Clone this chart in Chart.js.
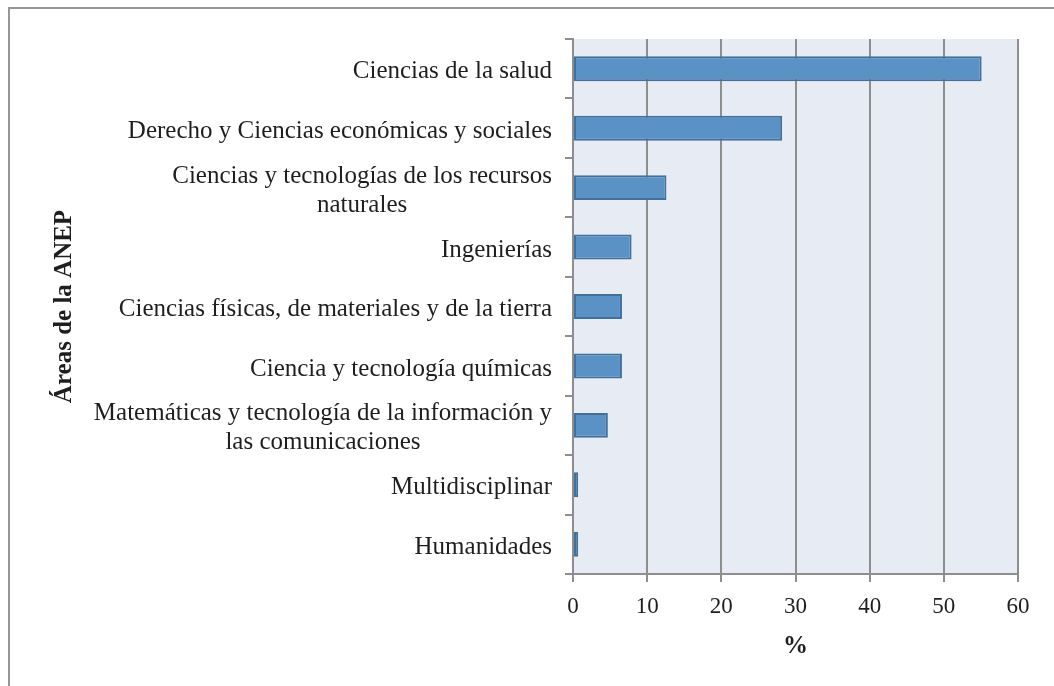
<!DOCTYPE html>
<html>
<head>
<meta charset="utf-8">
<script src="https://cdn.jsdelivr.net/npm/chart.js@4.5.0/dist/chart.umd.min.js"></script>
<style>
  html, body { margin: 0; padding: 0; background: #fff; overflow: hidden; }
  #frame { position: absolute; left: 8px; top: 7px; width: 1100px; height: 700px;
           border-left: 2px solid #969696; border-top: 2px solid #969696; }
  #wrap { position: absolute; left: 0; top: 0; width: 1054px; height: 686px; }
</style>
</head>
<body>
<div id="frame"></div>
<div id="wrap"><canvas id="anep_chart" width="1054" height="686"></canvas></div>
<script>
const areas = [
  "Ciencias de la salud",
  "Derecho y Ciencias económicas y sociales",
  ["Ciencias y tecnologías de los recursos", "naturales"],
  "Ingenierías",
  "Ciencias físicas, de materiales y de la tierra",
  "Ciencia y tecnología químicas",
  ["Matemáticas y tecnología de la información y", "las comunicaciones"],
  "Multidisciplinar",
  "Humanidades"
];
const percent = [55.1, 28.2, 12.6, 7.9, 6.6, 6.6, 4.7, 0.7, 0.7];
const x_ticks = [0, 10, 20, 30, 40, 50, 60];

const font_family = "'Liberation Serif', 'DejaVu Serif', serif";
const grey = "#8e8e8e";
const text_color = "#1e1e1e";

// light blue background behind the plot only
const plot_background = {
  id: "plot_background",
  beforeDraw(chart) {
    const {ctx, chartArea: a} = chart;
    ctx.save();
    ctx.fillStyle = "#e6ebf4";
    ctx.fillRect(a.left, a.top, a.right - a.left, a.bottom - a.top);
    ctx.restore();
  }
};

// category labels: right aligned block, lines centred inside the block
const area_labels = {
  id: "area_labels",
  afterDraw(chart) {
    const ctx = chart.ctx;
    const y_scale = chart.scales.y;
    const line_height = 29;
    ctx.save();
    ctx.font = "25px " + font_family;
    ctx.fillStyle = text_color;
    ctx.textBaseline = "middle";
    ctx.textAlign = "center";
    const right = y_scale.right - 21;
    areas.forEach((label, i) => {
      const lines = Array.isArray(label) ? label : [label];
      const block = Math.max(...lines.map(l => ctx.measureText(l).width));
      const y = y_scale.getPixelForValue(i) + 3;
      const start = y - (lines.length - 1) * line_height / 2;
      lines.forEach((l, j) => {
        ctx.fillText(l, right - block / 2, start + j * line_height);
      });
    });
    ctx.restore();
  }
};

new Chart(document.getElementById("anep_chart"), {
  type: "bar",
  data: {
    labels: areas,
    datasets: [{
      data: percent,
      backgroundColor: "#5a92c6",
      borderColor: "#41709d",
      borderWidth: 2,
      borderSkipped: false,
      categoryPercentage: 1,
      barPercentage: 0.42
    }]
  },
  options: {
    indexAxis: "y",
    responsive: false,
    animation: false,
    events: [],
    layout: { padding: { left: 46, top: 39, right: 36, bottom: 20 } },
    plugins: {
      legend: { display: false },
      tooltip: { enabled: false }
    },
    scales: {
      x: {
        min: 0,
        max: 60,
        afterBuildTicks(scale) {
          scale.ticks = x_ticks.map(v => ({ value: v }));
        },
        afterFit(scale) { scale.height = 92; },
        border: { display: true, color: grey, width: 2 },
        grid: { color: grey, lineWidth: 2, tickLength: 8, tickColor: grey },
        ticks: {
          padding: 11,
          color: text_color,
          font: { family: font_family, size: 23 }
        },
        title: {
          display: true,
          text: "%",
          color: text_color,
          font: { family: font_family, size: 25, weight: "bold" },
          padding: { top: 4, bottom: 4 }
        }
      },
      y: {
        afterFit(scale) { scale.width = 573 - 46; },
        border: { display: true, color: grey, width: 2 },
        grid: { drawOnChartArea: false, drawTicks: true, tickLength: 8, color: grey, lineWidth: 2 },
        ticks: { display: false },
        title: {
          display: true,
          text: "Áreas de la ANEP",
          color: text_color,
          font: { family: font_family, size: 25, weight: "bold" },
          padding: { top: 4, bottom: 4 }
        }
      }
    }
  },
  plugins: [plot_background, area_labels]
});
</script>
</body>
</html>
